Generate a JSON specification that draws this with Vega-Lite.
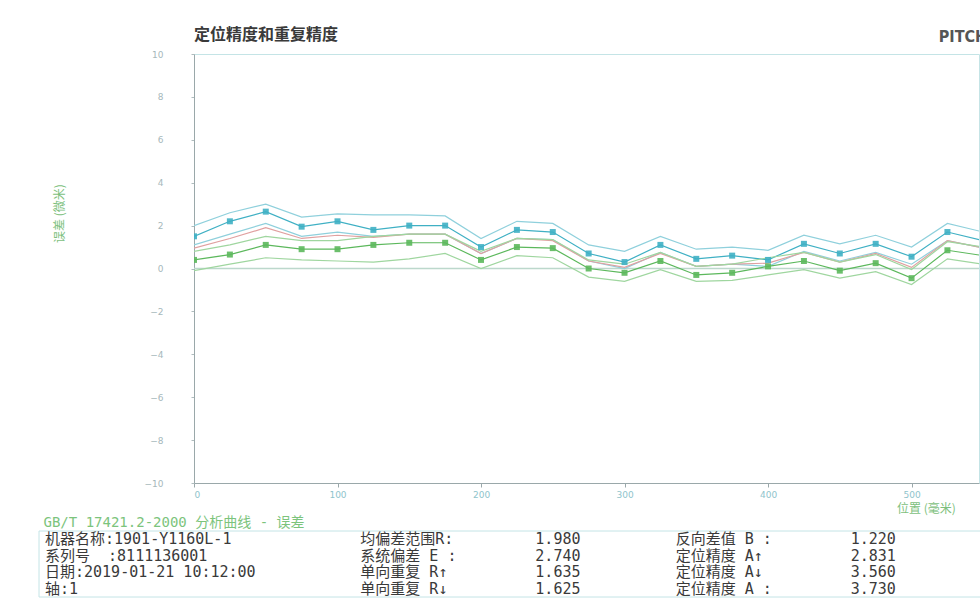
{
  "$schema": "https://vega.github.io/schema/vega-lite/v6.json",
  "background": "white",
  "padding": {"left": 38, "top": 26, "right": 0, "bottom": 0},
  "spacing": 0,
  "config": {"view": {"stroke": null}, "font": "Noto Sans CJK SC"},
  "datasets": {
    "err": [
      {"pos": 0, "fu": 2.0, "f": 1.5, "fl": 1.1, "m": 0.95, "bu": 0.8, "b": 0.4, "bl": -0.1},
      {"pos": 25, "fu": 2.6, "f": 2.2, "fl": 1.6, "m": 1.4, "bu": 1.1, "b": 0.65, "bl": 0.2},
      {"pos": 50, "fu": 3.0, "f": 2.65, "fl": 2.1, "m": 1.9, "bu": 1.5, "b": 1.1, "bl": 0.5},
      {"pos": 75, "fu": 2.4, "f": 1.95, "fl": 1.5, "m": 1.4, "bu": 1.3, "b": 0.9, "bl": 0.4},
      {"pos": 100, "fu": 2.55, "f": 2.2, "fl": 1.7, "m": 1.55, "bu": 1.3, "b": 0.9, "bl": 0.35},
      {"pos": 125, "fu": 2.5, "f": 1.8, "fl": 1.5, "m": 1.45, "bu": 1.5, "b": 1.1, "bl": 0.3},
      {"pos": 150, "fu": 2.5, "f": 2.0, "fl": 1.6, "m": 1.6, "bu": 1.6, "b": 1.2, "bl": 0.45},
      {"pos": 175, "fu": 2.45, "f": 2.0, "fl": 1.6, "m": 1.6, "bu": 1.6, "b": 1.2, "bl": 0.7},
      {"pos": 200, "fu": 1.4, "f": 1.0, "fl": 0.7, "m": 0.7, "bu": 0.8, "b": 0.4, "bl": 0.0},
      {"pos": 225, "fu": 2.2, "f": 1.8, "fl": 1.4, "m": 1.4, "bu": 1.4, "b": 1.0, "bl": 0.6},
      {"pos": 250, "fu": 2.1, "f": 1.7, "fl": 1.35, "m": 1.3, "bu": 1.35, "b": 0.95, "bl": 0.5},
      {"pos": 275, "fu": 1.1, "f": 0.7, "fl": 0.35, "m": 0.35, "bu": 0.4, "b": 0.0, "bl": -0.4},
      {"pos": 300, "fu": 0.8, "f": 0.3, "fl": 0.0, "m": 0.05, "bu": 0.2, "b": -0.2, "bl": -0.6},
      {"pos": 325, "fu": 1.5, "f": 1.1, "fl": 0.75, "m": 0.7, "bu": 0.75, "b": 0.35, "bl": -0.05},
      {"pos": 350, "fu": 0.9, "f": 0.45, "fl": 0.1, "m": 0.1, "bu": 0.1, "b": -0.3, "bl": -0.6},
      {"pos": 375, "fu": 1.0, "f": 0.6, "fl": 0.2, "m": 0.2, "bu": 0.2, "b": -0.2, "bl": -0.55},
      {"pos": 400, "fu": 0.85, "f": 0.4, "fl": 0.1, "m": 0.25, "bu": 0.5, "b": 0.1, "bl": -0.3},
      {"pos": 425, "fu": 1.55, "f": 1.15, "fl": 0.8, "m": 0.75, "bu": 0.75, "b": 0.35, "bl": -0.05},
      {"pos": 450, "fu": 1.15, "f": 0.7, "fl": 0.35, "m": 0.3, "bu": 0.3, "b": -0.1, "bl": -0.45},
      {"pos": 475, "fu": 1.55, "f": 1.15, "fl": 0.75, "m": 0.7, "bu": 0.65, "b": 0.25, "bl": -0.15},
      {"pos": 500, "fu": 1.0, "f": 0.55, "fl": 0.2, "m": 0.05, "bu": -0.05, "b": -0.45, "bl": -0.75},
      {"pos": 525, "fu": 2.1, "f": 1.7, "fl": 1.3, "m": 1.3, "bu": 1.25, "b": 0.85, "bl": 0.45},
      {"pos": 550, "fu": 1.7, "f": 1.3, "fl": 0.95, "m": 0.95, "bu": 1.0, "b": 0.6, "bl": 0.2}
    ],
    "table": [
      {"row": 1, "col": 0, "label": "机器名称:1901-Y1160L-1"},
      {"row": 1, "col": 1, "label": "均偏差范围R:", "value": "1.980"},
      {"row": 1, "col": 2, "label": "反向差值 B :", "value": "1.220"},
      {"row": 2, "col": 0, "label": "系列号\u00a0\u00a0:8111136001"},
      {"row": 2, "col": 1, "label": "系统偏差 E :", "value": "2.740"},
      {"row": 2, "col": 2, "label": "定位精度 A↑", "value": "2.831"},
      {"row": 3, "col": 0, "label": "日期:2019-01-21 10:12:00"},
      {"row": 3, "col": 1, "label": "单向重复 R↑", "value": "1.635"},
      {"row": 3, "col": 2, "label": "定位精度 A↓", "value": "3.560"},
      {"row": 4, "col": 0, "label": "轴:1"},
      {"row": 4, "col": 1, "label": "单向重复 R↓", "value": "1.625"},
      {"row": 4, "col": 2, "label": "定位精度 A :", "value": "3.730"}
    ]
  },
  "vconcat": [
    {
      "width": 785,
      "height": 429,
      "title": {"text": "定位精度和重复精度", "anchor": "start", "frame": "group", "fontSize": 16, "fontWeight": "bold", "color": "#3a3a3a", "font": "Noto Sans CJK SC", "offset": -14},
      "view": {"stroke": "#c4e4e6"},
      "layer": [
        {
          "data": {"values": [{}]},
          "mark": {"type": "rule", "color": "#bcd8cc", "strokeWidth": 1.5},
          "encoding": {"y": {"datum": 0, "type": "quantitative", "scale": {"domain": [-10, 10]}}}
        },
        {
          "data": {"name": "err"},
          "transform": [{"fold": ["fu", "f", "fl", "m", "bu", "b", "bl"], "as": ["series", "value"]}],
          "mark": {"type": "line", "clip": true, "strokeWidth": 1.2},
          "encoding": {
            "x": {"field": "pos", "type": "quantitative", "scale": {"domain": [0, 547], "nice": false},
              "axis": {"values": [0, 100, 200, 300, 400, 500], "title": "位置 (毫米)", "titleColor": "#7dbf7d", "titleFontSize": 12, "titleFontWeight": "normal", "titleX": 732, "titleY": 20, "labelColor": "#8fc4cc", "labelFontSize": 9, "labelFont": "DejaVu Sans", "grid": false, "domainColor": "#9aa8aa", "tickColor": "#9aa8aa", "tickSize": 4, "labelPadding": 3}},
            "y": {"field": "value", "type": "quantitative", "scale": {"domain": [-10, 10]},
              "axis": {"values": [-10, -8, -6, -4, -2, 0, 2, 4, 6, 8, 10], "title": "误差 (微米)", "titleColor": "#7dbf7d", "titleFontSize": 12, "titleFontWeight": "normal", "titleX": -128, "titleY": 159, "labelColor": "#a6b8bb", "labelFontSize": 9, "labelFont": "DejaVu Sans", "labelPadding": 28, "tickSize": 3, "grid": false, "domainColor": "#9aa8aa", "tickColor": "#b0bcbe"}},
            "color": {"field": "series", "type": "nominal", "legend": null,
              "scale": {"domain": ["fu", "f", "fl", "m", "bu", "b", "bl"], "range": ["#8fd0dc", "#3fb0c4", "#8fd0dc", "#e0a0a0", "#9fd69f", "#5cb85c", "#9fd69f"]}}
          }
        },
        {
          "data": {"name": "err"},
          "transform": [{"fold": ["fu", "f", "fl", "m", "bu", "b", "bl"], "as": ["series", "value"]}, {"filter": {"field": "series", "oneOf": ["f", "b"]}}],
          "mark": {"type": "square", "size": 36, "opacity": 0.9, "clip": true, "filled": true},
          "encoding": {
            "x": {"field": "pos", "type": "quantitative"},
            "y": {"field": "value", "type": "quantitative"},
            "color": {"field": "series", "type": "nominal", "legend": null}
          }
        },
        {
          "data": {"values": [{"t": "PITCH"}]},
          "mark": {"type": "text", "align": "left", "baseline": "middle", "fontSize": 16, "fontWeight": "bold", "color": "#555555", "font": "DejaVu Sans Condensed"},
          "encoding": {
            "x": {"datum": 519, "type": "quantitative"},
            "y": {"datum": 10.8, "type": "quantitative"},
            "text": {"field": "t"}
          }
        }
      ]
    },
    {
      "width": 785,
      "height": 66,
      "title": {"text": "GB/T 17421.2-2000 分析曲线 - 误差", "anchor": "start", "dx": 5, "fontSize": 14, "fontWeight": "normal", "color": "#7cc47c", "offset": 1, "font": "DejaVu Sans Mono, Noto Sans CJK SC"},
      "layer": [
        {
          "data": {"values": [{}]},
          "mark": {"type": "rule", "color": "#c4e4e6", "strokeWidth": 1},
          "encoding": {
            "x": {"datum": 0, "type": "quantitative", "axis": null, "scale": {"domain": [0, 3], "range": [-155, 791]}},
            "x2": {"datum": 3},
            "y": {"datum": 0.5, "type": "quantitative", "axis": null, "scale": {"domain": [0.5, 4.5], "reverse": true, "nice": false, "zero": false}}
          }
        },
        {
          "data": {"values": [{}]},
          "mark": {"type": "rule", "color": "#c4e4e6", "strokeWidth": 1},
          "encoding": {
            "x": {"datum": 0, "type": "quantitative"},
            "x2": {"datum": 3},
            "y": {"datum": 4.5, "type": "quantitative"}
          }
        },
        {
          "data": {"values": [{}]},
          "mark": {"type": "rule", "color": "#c4e4e6", "strokeWidth": 1},
          "encoding": {
            "x": {"datum": 0, "type": "quantitative"},
            "y": {"datum": 0.5, "type": "quantitative"},
            "y2": {"datum": 4.5}
          }
        },
        {
          "data": {"name": "table"},
          "mark": {"type": "text", "align": "left", "baseline": "middle", "dx": 6, "fontSize": 15, "font": "DejaVu Sans Mono, Noto Sans CJK SC", "color": "#3a3a3a"},
          "encoding": {
            "x": {"field": "col", "type": "quantitative"},
            "y": {"field": "row", "type": "quantitative"},
            "text": {"field": "label"}
          }
        },
        {
          "data": {"name": "table"},
          "transform": [{"filter": "isValid(datum.value)"}],
          "mark": {"type": "text", "align": "left", "baseline": "middle", "dx": 181, "fontSize": 15, "font": "DejaVu Sans Mono, Noto Sans CJK SC", "color": "#3a3a3a"},
          "encoding": {
            "x": {"field": "col", "type": "quantitative"},
            "y": {"field": "row", "type": "quantitative"},
            "text": {"field": "value"}
          }
        }
      ]
    }
  ]
}
